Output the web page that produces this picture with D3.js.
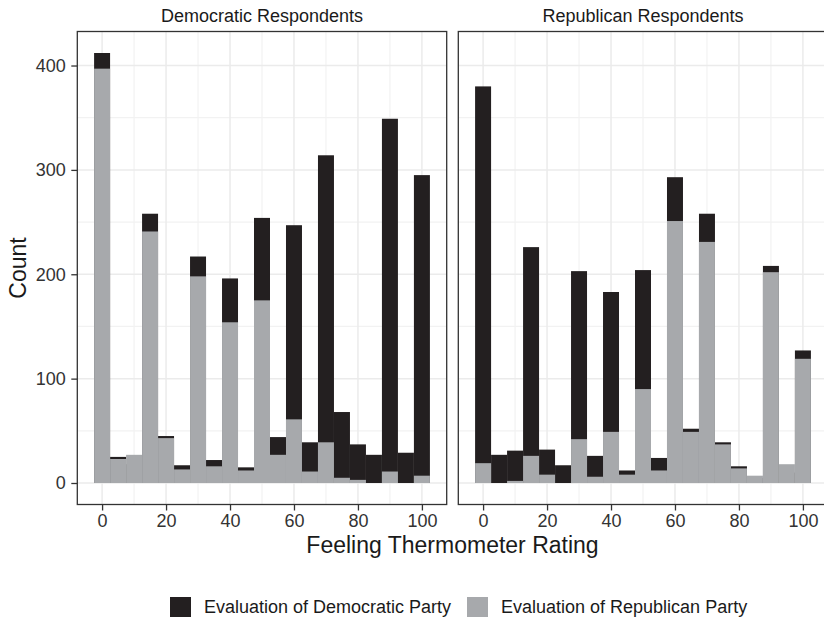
<!DOCTYPE html>
<html><head><meta charset="utf-8">
<script src="https://cdn.jsdelivr.net/npm/d3@7"></script>
<style>body{margin:0;background:#fff}svg{display:block;font-family:"Liberation Sans",Arial,sans-serif}</style>
</head><body>
<svg id="c" width="824" height="619"></svg>
<script>
const bins = [0,5,10,15,20,25,30,35,40,45,50,55,60,65,70,75,80,85,90,95,100];
const panels = ["Democratic Respondents","Republican Respondents"];
const seriesNames = ["Evaluation of Democratic Party","Evaluation of Republican Party"];
const demRespDemParty = [412,25,18,258,45,17,217,22,196,15,254,44,247,39,314,68,37,27,349,29,295];
const demRespRepParty = [397,23,27,241,43,13,198,16,154,12,175,27,61,11,39,5,3,0,11,0,7];
const repRespDemParty = [380,27,31,226,32,17,203,26,183,12,204,24,293,52,258,39,16,5,208,10,127];
const repRespRepParty = [19,0,2,26,8,0,42,6,49,8,90,12,251,49,231,37,14,7,202,18,119];
const xTicks = [0,20,40,60,80,100];
const yTicks = [0,100,200,300,400];
const colors = ["#231f20","#a7a9ac"];

const data = [
  [demRespDemParty, demRespRepParty],
  [repRespDemParty, repRespRepParty]
];

const svg = d3.select("#c");
const panelX = [77.3, 458.3];
const panelW = 369.4;
const pTop = 31.5, pBottom = 504.5;
const binW = 5;
const yMax = 412;
const y = d3.scaleLinear().domain([-0.05*yMax, yMax*1.05]).range([pBottom, pTop]);
const FONT = "Liberation Sans, Arial, sans-serif";

panels.forEach((name, pi) => {
  const x = d3.scaleLinear().domain([-2.5 - 5.25, 102.5 + 5.25]).range([panelX[pi], panelX[pi] + panelW]);
  const g = svg.append("g");
  const xMinor = [10,30,50,70,90];
  const yMinor = [50,150,250,350];
  g.selectAll(".xm").data(xMinor).join("line")
    .attr("x1", d => x(d)).attr("x2", d => x(d)).attr("y1", pTop).attr("y2", pBottom)
    .attr("stroke", "#f2f2f2").attr("stroke-width", 1.2);
  g.selectAll(".ym").data(yMinor).join("line")
    .attr("x1", panelX[pi]).attr("x2", panelX[pi] + panelW).attr("y1", d => y(d)).attr("y2", d => y(d))
    .attr("stroke", "#f2f2f2").attr("stroke-width", 1.2);
  g.selectAll(".xM").data(xTicks).join("line")
    .attr("x1", d => x(d)).attr("x2", d => x(d)).attr("y1", pTop).attr("y2", pBottom)
    .attr("stroke", "#ebebeb").attr("stroke-width", 1.5);
  g.selectAll(".yM").data(yTicks).join("line")
    .attr("x1", panelX[pi]).attr("x2", panelX[pi] + panelW).attr("y1", d => y(d)).attr("y2", d => y(d))
    .attr("stroke", "#ebebeb").attr("stroke-width", 1.5);

  data[pi].forEach((vals, si) => {
    g.append("g").selectAll("rect").data(bins.map((b, i) => ({b, v: vals[i]}))).join("rect")
      .attr("x", d => x(d.b - binW/2))
      .attr("width", d => x(d.b + binW/2) - x(d.b - binW/2))
      .attr("y", d => y(d.v))
      .attr("height", d => y(0) - y(d.v))
      .attr("fill", colors[si]);
  });

  g.append("rect").attr("x", panelX[pi]).attr("y", pTop).attr("width", panelW).attr("height", pBottom - pTop)
    .attr("fill", "none").attr("stroke", "#333").attr("stroke-width", 1.3);

  const xa = svg.append("g").attr("transform", `translate(0,${pBottom})`)
    .call(d3.axisBottom(x).tickValues(xTicks).tickSize(6).tickPadding(4));
  xa.select(".domain").remove();
  xa.selectAll(".tick line").attr("stroke", "#333").attr("stroke-width", 1.3);
  xa.selectAll(".tick text").attr("font-size", 18).attr("fill", "#333").attr("font-family", FONT);

  svg.append("text").attr("x", panelX[pi] + panelW/2).attr("y", 22)
    .attr("text-anchor", "middle").attr("font-size", 18).attr("fill", "#1a1a1a").text(name);
});

const ya = svg.append("g").attr("transform", `translate(${panelX[0]},0)`)
  .call(d3.axisLeft(y).tickValues(yTicks).tickSize(6).tickPadding(5.6));
ya.select(".domain").remove();
ya.selectAll(".tick line").attr("stroke", "#333").attr("stroke-width", 1.3);
ya.selectAll(".tick text").attr("font-size", 18).attr("fill", "#333").attr("font-family", FONT);

svg.append("text").attr("x", 452.5).attr("y", 553).attr("text-anchor", "middle")
  .attr("font-size", 23).attr("fill", "#1a1a1a").text("Feeling Thermometer Rating");
svg.append("text").attr("transform", `translate(26,${(pTop+pBottom)/2}) rotate(-90)`).attr("text-anchor", "middle")
  .attr("font-size", 23).attr("fill", "#1a1a1a").text("Count");

const legX = [170, 467];
seriesNames.forEach((n, i) => {
  svg.append("rect").attr("x", legX[i]).attr("y", 597).attr("width", 21).attr("height", 20).attr("fill", colors[i]);
  svg.append("text").attr("x", legX[i] + 34).attr("y", 613).attr("font-size", 18).attr("fill", "#1a1a1a").text(n);
});
</script>
</body></html>
